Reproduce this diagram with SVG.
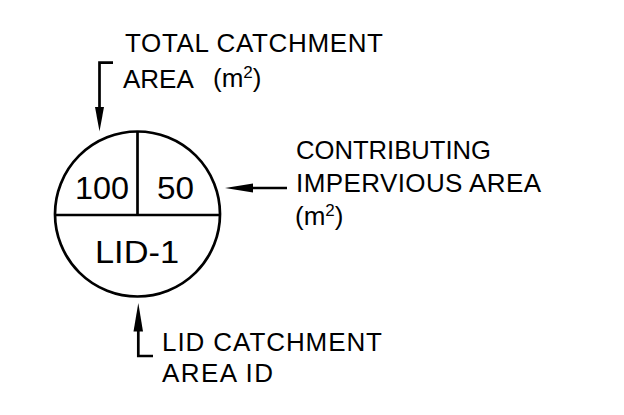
<svg xmlns="http://www.w3.org/2000/svg" width="624" height="415" viewBox="0 0 624 415">
<style>
.ln{fill:none;stroke:#000;stroke-width:2.7;stroke-linecap:butt;stroke-linejoin:miter}
.ah{fill:#000;stroke:none}
.t{font-family:"Liberation Sans",Arial,sans-serif;font-size:26px;fill:#000}
.n{font-family:"Liberation Sans",Arial,sans-serif;font-size:31px;fill:#000}
.sup{font-size:17px}
</style>
<rect width="624" height="415" fill="#fff"/>
<g id="node-circle">
<circle class="ln" cx="137.5" cy="214" r="82.5"/>
<line class="ln" x1="55" y1="215" x2="220" y2="215"/>
<line class="ln" x1="137.5" y1="131.5" x2="137.5" y2="215"/>
<text class="n" x="75" y="199" textLength="54" lengthAdjust="spacingAndGlyphs">100</text>
<text class="n" x="157" y="199" textLength="37" lengthAdjust="spacingAndGlyphs">50</text>
<text class="n" x="95" y="263" textLength="84" lengthAdjust="spacingAndGlyphs">LID-1</text>
</g>
<g id="label-total">
<text class="t" x="125" y="52" textLength="258" lengthAdjust="spacing">TOTAL CATCHMENT</text>
<text class="t" x="123" y="88">AREA</text>
<text class="t" x="213" y="87">(m<tspan class="sup" dy="-9">2</tspan><tspan dy="9">)</tspan></text>
</g>
<g id="label-contributing">
<text class="t" x="296" y="158.5" textLength="195" lengthAdjust="spacingAndGlyphs">CONTRIBUTING</text>
<text class="t" x="296" y="192" textLength="245" lengthAdjust="spacing">IMPERVIOUS AREA</text>
<text class="t" x="295" y="225">(m<tspan class="sup" dy="-9">2</tspan><tspan dy="9">)</tspan></text>
</g>
<g id="label-lid">
<text class="t" x="162" y="351" textLength="220" lengthAdjust="spacing">LID CATCHMENT</text>
<text class="t" x="162" y="382" textLength="111" lengthAdjust="spacing">AREA ID</text>
</g>
<g id="connectors">
<path class="ln" d="M113,62.7 H99.5 V108"/>
<polygon class="ah" points="99.5,131.5 95,107 104,107"/>
<path class="ln" d="M287,188 H252"/>
<polygon class="ah" points="225,188 253,183.5 253,192.5"/>
<path class="ln" d="M138.3,330 V356 H153"/>
<polygon class="ah" points="138.3,303 133.5,331.5 143,331.5"/>
</g>
</svg>
